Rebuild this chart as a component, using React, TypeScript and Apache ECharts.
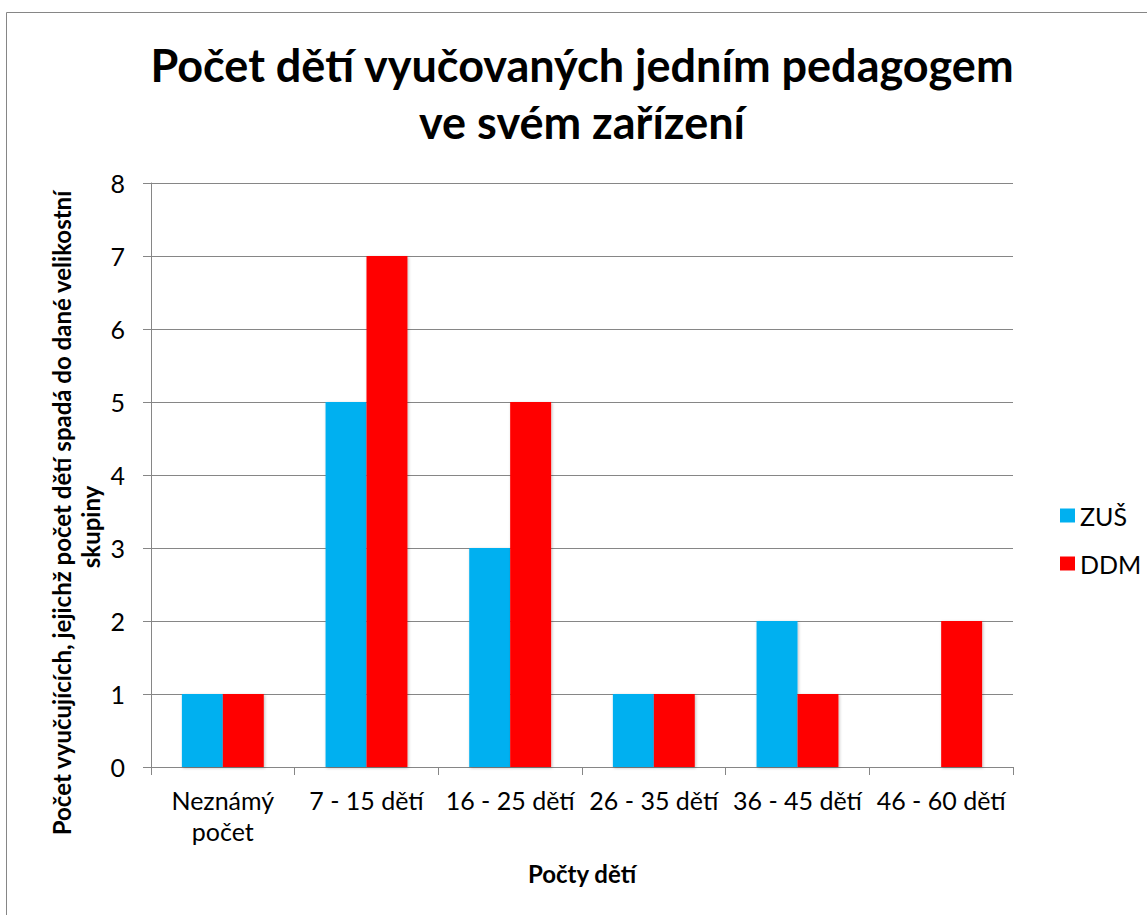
import React, { useEffect, useRef } from "react";
import * as echarts from "echarts";

const categories = ["Neznámý\npočet", "7 - 15 dětí", "16 - 25 dětí", "26 - 35 dětí", "36 - 45 dětí", "46 - 60 dětí"];
const zusValues: (number | null)[] = [1, 5, 3, 1, 2, null];
const ddmValues: number[] = [1, 7, 5, 1, 1, 2];
const seriesNames = ["ZUŠ", "DDM"];
const titleLines = ["Počet dětí vyučovaných jedním pedagogem", "ve svém zařízení"];
const yNameLines = ["Počet vyučujících, jejichž počet dětí spadá do dané velikostní", "skupiny"];
const xName = "Počty dětí";

const FONT = "Lato";
const GRID = "#868686";

export default function App() {
  const ref = useRef<HTMLDivElement>(null);
  useEffect(() => {
    const chart = echarts.init(ref.current!, null, { renderer: "svg" });
    const shadow = { shadowBlur: 3, shadowColor: "rgba(0,0,0,0.25)", shadowOffsetX: 1, shadowOffsetY: 1 };
    chart.setOption({
      animation: false,
      textStyle: { fontFamily: FONT },
      grid: { left: 151, top: 183, right: 134, bottom: 148, containLabel: false },
      legend: {
        orient: "vertical",
        left: 1055,
        top: 498,
        itemWidth: 15,
        itemHeight: 14,
        itemGap: 23,
        icon: "rect",
        textStyle: { fontFamily: FONT, fontSize: 25, color: "#000" },
        data: seriesNames,
      },
      xAxis: {
        type: "category",
        data: categories,
        axisLine: { lineStyle: { color: GRID, width: 1 } },
        axisTick: { show: true, length: 8, lineStyle: { color: GRID } },
        axisLabel: { fontFamily: FONT, fontSize: 25, color: "#000", lineHeight: 31, margin: 17, interval: 0 },
      },
      yAxis: {
        type: "value",
        min: 0,
        max: 8,
        interval: 1,
        axisLine: { show: true, lineStyle: { color: GRID, width: 1 } },
        axisTick: { show: true, length: 8, lineStyle: { color: GRID } },
        splitLine: { show: true, lineStyle: { color: GRID, width: 1 } },
        axisLabel: { fontFamily: FONT, fontSize: 25, color: "#000", margin: 26 },
      },
      series: [
        {
          name: seriesNames[0],
          type: "bar",
          data: zusValues,
          barGap: "0%",
          barCategoryGap: "43%",
          itemStyle: { color: "#00B0F0", ...shadow },
        },
        {
          name: seriesNames[1],
          type: "bar",
          data: ddmValues,
          barGap: "0%",
          barCategoryGap: "43%",
          itemStyle: { color: "#FF0000", ...shadow },
        },
      ],
      graphic: [
        {
          type: "rect",
          shape: { x: 6.5, y: 12.5, width: 1160, height: 930 },
          style: { fill: "none", stroke: GRID, lineWidth: 1 },
          silent: true,
        },
        {
          type: "text",
          x: 582,
          y: 65,
          style: { text: titleLines[0], font: `bold 45px ${FONT}`, fill: "#000", textAlign: "center", textVerticalAlign: "middle" },
        },
        {
          type: "text",
          x: 582,
          y: 122,
          style: { text: titleLines[1], font: `bold 45px ${FONT}`, fill: "#000", textAlign: "center", textVerticalAlign: "middle" },
        },
        {
          type: "text",
          x: 61,
          y: 513,
          rotation: Math.PI / 2,
          style: { text: yNameLines[0], font: `bold 24px ${FONT}`, fill: "#000", textAlign: "center", textVerticalAlign: "middle" },
        },
        {
          type: "text",
          x: 90,
          y: 527,
          rotation: Math.PI / 2,
          style: { text: yNameLines[1], font: `bold 24px ${FONT}`, fill: "#000", textAlign: "center", textVerticalAlign: "middle" },
        },
        {
          type: "text",
          x: 582,
          y: 873,
          style: { text: xName, font: `bold 24px ${FONT}`, fill: "#000", textAlign: "center", textVerticalAlign: "middle" },
        },
      ],
    });
    return () => chart.dispose();
  }, []);
  return <div ref={ref} style={{ position: "fixed", left: 0, top: 0, width: 1147, height: 915, background: "#fff" }} />;
}
